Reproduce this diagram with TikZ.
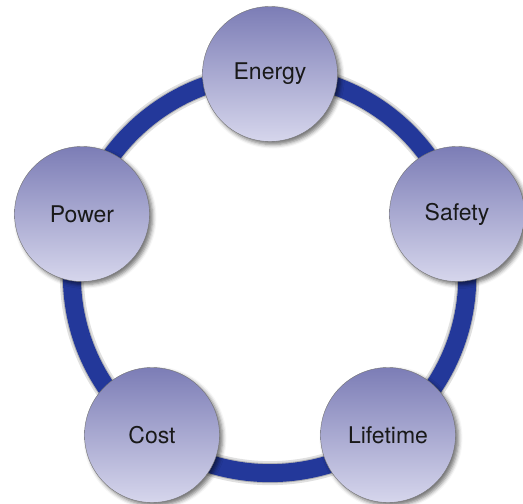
\documentclass[tikz,border=0pt]{standalone}
\usepackage{fontspec}
\setmainfont{TeX Gyre Heros}
\usepackage{tikz}
\usetikzlibrary{positioning,shadows.blur,backgrounds}
\definecolor{ringblue}{HTML}{23389A}
\definecolor{balltop}{HTML}{7C7DB6}
\definecolor{ballbot}{HTML}{D6D6EC}

\begin{document}
\begin{tikzpicture}[%
      x=1pt, y=-1pt,
      every node/.style={circle, minimum size=135pt, inner sep=0pt,
        top color=balltop, bottom color=ballbot, draw=black!55, line width=0.4pt,
        blur shadow={shadow xshift=3pt, shadow yshift=-3pt, shadow blur radius=4pt, shadow opacity=55},
        font=\fontsize{23}{27}\selectfont, text=black!90},
      ring/.style={draw=ringblue, line width=18pt},
      ringshade/.style={draw=black, line width=24pt, opacity=0.12, shift={(3,3)}},
      arc/.style={bend left=36, looseness=0.94}
    ]
    \useasboundingbox (0,0) rectangle (523,504);
        \node [] (0) at (270,74) {Energy};
        \node [] (1) at (457,214) {Safety};
        \node [] (2) at (388,435) {Lifetime};
        \node [] (3) at (152,435) {Cost};
        \node [] (4) at (82,214) {Power};

    \begin{scope}[on background layer]
    % soft shadow under the ring
    \path[ringshade]
    (0.center) edge[arc] (1.center)
    (1.center) edge[arc] (2.center)
    (2.center) edge[arc] (3.center)
    (3.center) edge[arc] (4.center)
    (4.center) edge[arc] (0.center)
    ;
    \path[ringshade, line width=20pt, opacity=0.2]
    (0.center) edge[arc] (1.center)
    (1.center) edge[arc] (2.center)
    (2.center) edge[arc] (3.center)
    (3.center) edge[arc] (4.center)
    (4.center) edge[arc] (0.center)
    ;
    \path[ring]
    (0.center) edge[arc] (1.center)
    (1.center) edge[arc] (2.center)
    (2.center) edge[arc] (3.center)
    (3.center) edge[arc] (4.center)
    (4.center) edge[arc] (0.center)
    ;
    \end{scope}
      \end{tikzpicture}
\end{document}
